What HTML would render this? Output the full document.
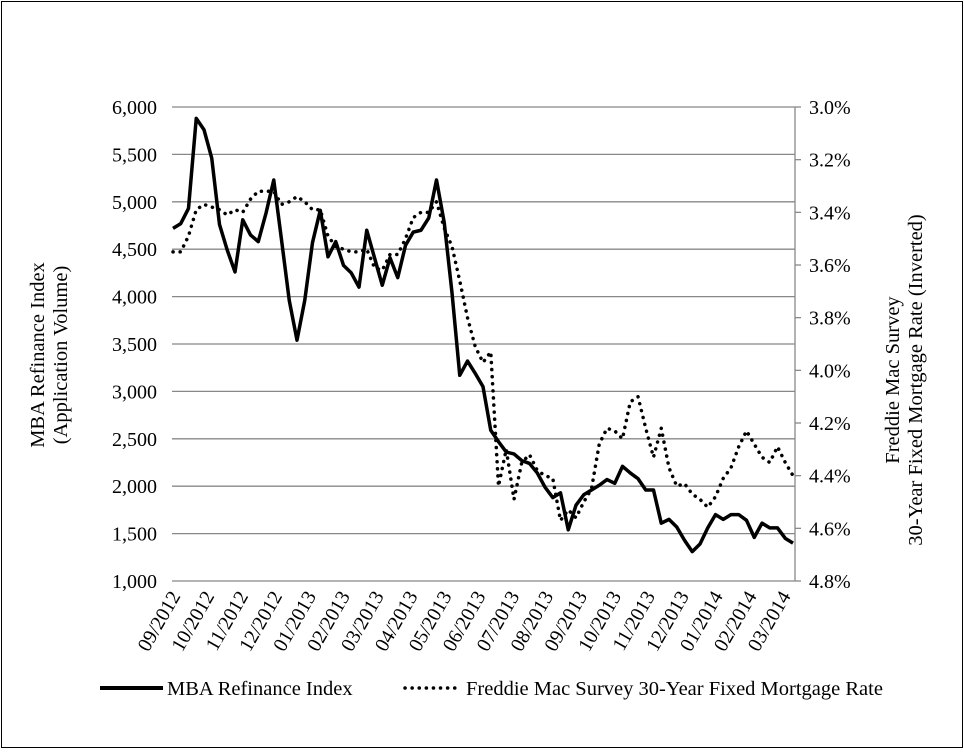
<!DOCTYPE html>
<html><head><meta charset="utf-8"><style>
body{margin:0;background:#fff;}
svg text{font-family:"Liberation Serif",serif;fill:#000;}
</style></head><body>
<svg id="chart" width="964" height="749" xmlns="http://www.w3.org/2000/svg">
<rect x="1.5" y="1.5" width="961" height="746" fill="#fff" stroke="#000" stroke-width="1"/>
<g id="grid"></g>
<g id="series"></g>
<g id="axes"></g>
<text transform="translate(44,355) rotate(-90)" text-anchor="middle" font-size="20.5">MBA Refinance Index</text>
<text transform="translate(67,355) rotate(-90)" text-anchor="middle" font-size="20.5">(Application Volume)</text>
<text transform="translate(899,380) rotate(-90)" text-anchor="middle" font-size="20.5">Freddie Mac Survey</text>
<text transform="translate(922,380) rotate(-90)" text-anchor="middle" font-size="20.5">30-Year Fixed Mortgage Rate (Inverted)</text>
<g>
<line x1="100" y1="688" x2="163" y2="688" stroke="#000" stroke-width="4"/>
<text x="167" y="695" font-size="20.5">MBA Refinance Index</text>
<line x1="405" y1="688" x2="460" y2="688" stroke="#000" stroke-width="3.5" stroke-dasharray="0.1,7" stroke-linecap="round"/>
<text x="466" y="695" font-size="20.5">Freddie Mac Survey 30-Year Fixed Mortgage Rate</text>
</g>
</svg>
<script>
const mbaValues=[4720,4770,4930,5880,5760,5460,4760,4490,4260,4810,4650,4580,4880,5230,4600,3960,3540,3960,4570,4910,4420,4580,4330,4250,4100,4700,4410,4120,4410,4200,4540,4680,4700,4830,5230,4780,4040,3170,3320,3190,3050,2590,2470,2360,2340,2270,2240,2140,1990,1880,1930,1540,1800,1910,1960,2010,2070,2030,2210,2140,2080,1960,1960,1610,1650,1570,1430,1310,1390,1560,1700,1650,1700,1700,1640,1460,1610,1560,1560,1450,1400];
const rateValues=[3.55,3.55,3.49,3.39,3.37,3.38,3.39,3.41,3.39,3.40,3.35,3.32,3.32,3.32,3.37,3.36,3.34,3.36,3.39,3.39,3.49,3.53,3.54,3.55,3.55,3.54,3.61,3.62,3.56,3.56,3.50,3.42,3.40,3.40,3.36,3.46,3.53,3.66,3.80,3.91,3.97,3.93,4.44,4.30,4.49,4.35,4.32,4.38,4.40,4.41,4.57,4.53,4.56,4.50,4.45,4.28,4.22,4.23,4.26,4.12,4.10,4.22,4.33,4.22,4.37,4.44,4.43,4.47,4.49,4.52,4.48,4.41,4.37,4.29,4.23,4.28,4.33,4.35,4.29,4.35,4.40];
const leftTicks=[1000,1500,2000,2500,3000,3500,4000,4500,5000,5500,6000];
const rightTicks=[3.0,3.2,3.4,3.6,3.8,4.0,4.2,4.4,4.6,4.8];
const monthLabels=["09/2012","10/2012","11/2012","12/2012","01/2013","02/2013","03/2013","04/2013","05/2013","06/2013","07/2013","08/2013","09/2013","10/2013","11/2013","12/2013","01/2014","02/2014","03/2014"];
const X0=173,X1=793,YT=107,YB=581,PL=172,PR=795;
const NS="http://www.w3.org/2000/svg";
const xIdx=i=>X0+(X1-X0)*i/(mbaValues.length-1);
const yL=v=>YB-(v-1000)/5000*(YB-YT);
const yR=r=>YT+(r-3.0)/1.8*(YB-YT);
function mk(t,a,p){const e=document.createElementNS(NS,t);for(const k in a)e.setAttribute(k,a[k]);p.appendChild(e);return e;}
const grid=document.getElementById('grid'),axes=document.getElementById('axes'),ser=document.getElementById('series');
leftTicks.forEach(v=>{
  const g=mk('line',{x1:PL,x2:PR,y1:yL(v),y2:yL(v),stroke:'#888','stroke-width':1.3},grid);
  
  
  const t=mk('text',{x:157,y:yL(v)+7,'text-anchor':'end','font-size':20},axes);
  t.textContent=v.toLocaleString('en-US');
  
  
});
const ax=mk('line',{x1:PR,x2:PR,y1:YT,y2:YB,stroke:'#888','stroke-width':1.3},axes);


rightTicks.forEach(r=>{
  const tk=mk('line',{x1:PR,x2:PR+6,y1:yR(r),y2:yR(r),stroke:'#888','stroke-width':1.3},axes);
  
  
  const t=mk('text',{x:809,y:yR(r)+7,'font-size':20},axes);
  t.textContent=r.toFixed(1)+'%';
  
  
});
monthLabels.forEach((m,i)=>{
  const x=181+i*33.9;
  const t=mk('text',{transform:`translate(${x},${596}) rotate(-60)`,'text-anchor':'end','font-size':20},axes);
  t.textContent=m;
  
  
});
const rp=mk('polyline',{points:rateValues.map((r,i)=>xIdx(i)+','+yR(r)).join(' '),fill:'none',stroke:'#000','stroke-width':3.5,'stroke-dasharray':'0.1,7','stroke-linecap':'round','stroke-linejoin':'round'},ser);


const mp=mk('polyline',{points:mbaValues.map((v,i)=>xIdx(i)+','+yL(v)).join(' '),fill:'none',stroke:'#000','stroke-width':3.5,'stroke-linejoin':'round'},ser);


</script>
</body></html>
